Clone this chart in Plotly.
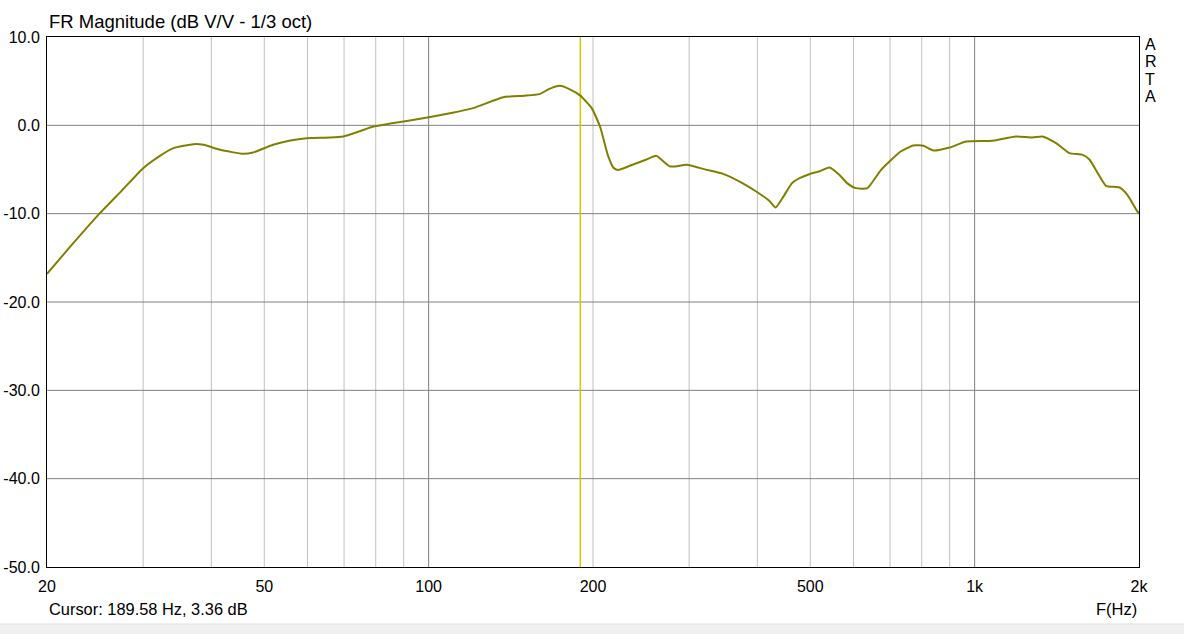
import plotly.graph_objects as go

# Frequency response data (Hz, dB)
freq = [20, 22.3, 25.0, 27.5, 30.0, 32.2, 34.1, 37.1, 38.7, 41.5, 45.8, 47.7, 51.9,
        55.5, 59.8, 66, 69.8, 74.5, 79.2, 85, 91.2, 100.7, 110, 120.7, 137, 150, 159.6,
        166, 174, 181, 189.6, 198.9, 206, 213, 218, 222, 233.6, 250, 261, 277, 297,
        323, 346, 372, 398, 420, 432, 445, 463, 478, 498, 520, 542, 565, 584, 606,
        636, 674, 732, 772, 806, 840, 900, 965, 1078, 1190, 1276, 1332, 1410, 1492,
        1578, 1624, 1680, 1740, 1842, 1900, 1978, 2000]
mag = [-16.8, -13.4, -9.94, -7.3, -4.85, -3.45, -2.58, -2.13, -2.2, -2.77, -3.23, -3.08, -2.2,
       -1.75, -1.45, -1.38, -1.26, -0.7, -0.13, 0.2, 0.5, 0.95, 1.4, 1.95, 3.19, 3.35, 3.53,
       4.1, 4.47, 4.1, 3.36, 1.95, -0.13, -3.4, -4.8, -5.05, -4.58, -3.9, -3.45, -4.66, -4.47,
       -5.04, -5.49, -6.4, -7.49, -8.5, -9.3, -8.2, -6.54, -5.98, -5.53, -5.2, -4.78, -5.6, -6.54, -7.11,
       -7.11, -5.04, -2.96, -2.28, -2.32, -2.85, -2.51, -1.83, -1.75, -1.26, -1.38, -1.26, -2.02, -3.15,
       -3.34, -3.9, -5.4, -6.85, -7.04, -7.8, -9.57, -10.0]

cursor_freq = 189.58
cursor_db = 3.36

x_tickvals = [20, 50, 100, 200, 500, 1000, 2000]
x_ticktext = ["20", "50", "100", "200", "500", "1k", "2k"]
y_tickvals = [10, 0, -10, -20, -30, -40, -50]
y_ticktext = ["10.0", "0.0", "-10.0", "-20.0", "-30.0", "-40.0", "-50.0"]

minor_grid = [30, 40, 50, 60, 70, 80, 90, 200, 300, 400, 500, 600, 700, 800, 900]
major_grid = [100, 1000]
hgrid = [0, -10, -20, -30, -40]

FONT = "Liberation Sans, Arial, sans-serif"

fig = go.Figure()
fig.add_trace(go.Scatter(x=freq, y=mag, mode="lines",
                         line=dict(color="#808000", width=2, shape="spline", smoothing=0.5),
                         hoverinfo="skip", showlegend=False))

shapes = []
for f in minor_grid:
    shapes.append(dict(type="line", xref="x", yref="y", x0=f, x1=f, y0=-50, y1=10,
                       line=dict(color="#c0c0c0", width=1), layer="below"))
for f in major_grid:
    shapes.append(dict(type="line", xref="x", yref="y", x0=f, x1=f, y0=-50, y1=10,
                       line=dict(color="#808080", width=1), layer="below"))
for v in hgrid:
    shapes.append(dict(type="line", xref="x", yref="y", x0=20, x1=2000, y0=v, y1=v,
                       line=dict(color="#808080", width=1), layer="below"))
# cursor line
shapes.append(dict(type="line", xref="x", yref="y", x0=cursor_freq, x1=cursor_freq, y0=-50, y1=10,
                   line=dict(color="#cccc00", width=1.5), layer="below"))
# bottom status band
shapes.append(dict(type="rect", xref="paper", yref="paper", x0=-0.1, x1=1.1,
                   y0=-0.1076, y1=-0.2, fillcolor="#f0f0f0", line=dict(color="#e0e0e0", width=1),
                   layer="below"))

annotations = [
    dict(text="FR Magnitude (dB V/V - 1/3 oct)", xref="paper", yref="paper", x=0.0, y=1.0,
         xanchor="left", yanchor="bottom", yshift=3, showarrow=False,
         font=dict(family=FONT, size=18.5, color="#000000")),
    dict(text=f"Cursor: {cursor_freq:.2f} Hz, {cursor_db:.2f} dB", xref="paper", yref="paper",
         x=0.0, y=0, xanchor="left", yanchor="middle", yshift=-42, showarrow=False,
         font=dict(family=FONT, size=16.4, color="#000000")),
    dict(text="F(Hz)", xref="paper", yref="paper", x=1.0, y=0, xanchor="right", yanchor="middle",
         yshift=-42, showarrow=False, font=dict(family=FONT, size=16.5, color="#000000")),
]
for i, ch in enumerate("ARTA"):
    annotations.append(dict(text=ch, xref="paper", yref="paper", x=1.0, y=1.0, xanchor="left",
                            yanchor="middle", xshift=4, yshift=-7 - 17.5 * i, showarrow=False,
                            font=dict(family=FONT, size=16, color="#000000")))

fig.update_layout(
    width=1184, height=634,
    margin=dict(l=47, r=45, t=37, b=67, autoexpand=False),
    paper_bgcolor="#ffffff", plot_bgcolor="#ffffff",
    shapes=shapes, annotations=annotations,
    xaxis=dict(type="log", range=[1.30103, 3.30103], tickvals=x_tickvals, ticktext=x_ticktext,
               showgrid=False, zeroline=False, showline=True, linecolor="#000000", linewidth=1,
               mirror=True, ticks="", ticklabelstandoff=5, automargin=False,
               tickfont=dict(family=FONT, size=16, color="#000000")),
    yaxis=dict(range=[-50, 10], tickvals=y_tickvals, ticktext=y_ticktext,
               showgrid=False, zeroline=False, showline=True, linecolor="#000000", linewidth=1,
               mirror=True, ticks="", ticklabelstandoff=3, automargin=False,
               tickfont=dict(family=FONT, size=16, color="#000000")),
    font=dict(family=FONT),
)

# remove the browser's default 8px body margin so the figure sits at the page origin
fig.write_html("out.html", config={"displayModeBar": False},
               post_script="document.body.style.margin='0';")
